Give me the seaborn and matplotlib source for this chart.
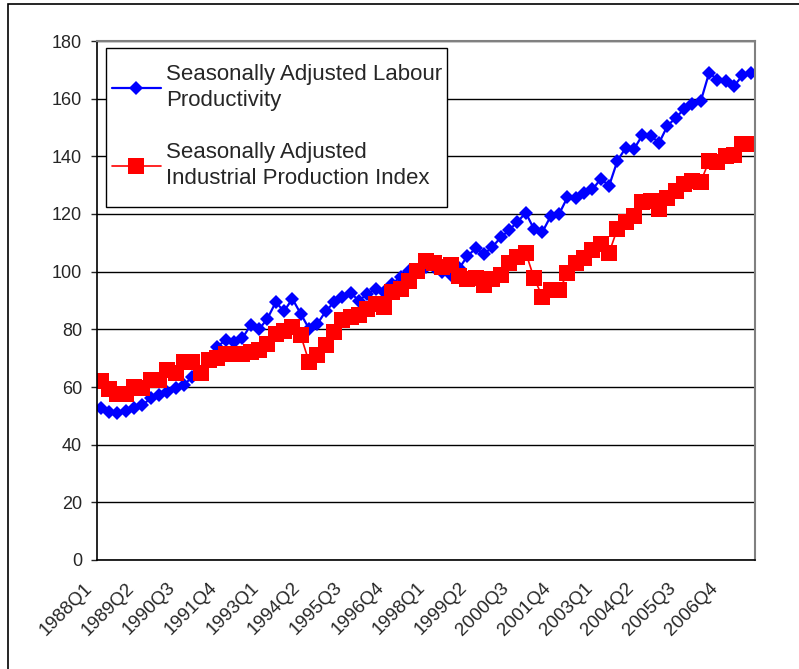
import numpy as np
import matplotlib
matplotlib.use('Agg')
import matplotlib.pyplot as plt
import matplotlib.patches as mpatches
import matplotlib.transforms as mtransforms
import pandas as pd
import seaborn as sns

sns.set_style("white")
plt.rcParams['font.family'] = ['Liberation Sans', 'DejaVu Sans']

# quarterly data, 1988Q1 .. 2007Q3
quarters = [f"{y}Q{q}" for y in range(1988, 2008) for q in range(1, 5)][:79]

labour_productivity = [
    52.6, 51.4, 51.1, 51.7, 52.6, 53.7, 56.1, 57.2, 58.4, 59.5,
    60.7, 63.6, 65.3, 69.0, 74.0, 76.3, 75.7, 76.9, 81.5, 80.0,
    83.7, 89.4, 86.3, 90.6, 85.4, 80.2, 81.9, 86.3, 89.4, 91.1,
    92.5, 90.0, 92.3, 94.0, 92.9, 95.8, 98.3, 100.3, 100.0, 101.5,
    101.5, 100.0, 98.8, 101.1, 105.4, 108.1, 106.1, 108.6, 111.9, 114.4,
    117.3, 120.4, 114.7, 113.8, 119.3, 120.0, 125.8, 125.4, 127.4, 128.5,
    132.2, 129.8, 138.5, 143.0, 142.6, 147.4, 147.1, 144.7, 150.6, 153.4,
    156.4, 158.2, 159.2, 169.0, 166.5, 166.1, 164.4, 168.1, 169.0,
]

industrial_production = [
    62.2, 59.2, 57.6, 57.6, 59.9, 59.5, 62.4, 62.4, 65.9, 64.7,
    68.8, 68.8, 64.7, 69.3, 69.9, 71.4, 71.4, 71.4, 72.2, 73.0,
    75.0, 78.5, 79.4, 80.8, 77.9, 68.7, 71.0, 74.4, 79.0, 83.1,
    84.2, 84.8, 87.1, 88.9, 87.9, 92.9, 94.0, 96.9, 100.4, 103.8,
    102.9, 101.7, 102.3, 98.5, 97.3, 97.7, 95.4, 97.3, 98.8, 102.9,
    105.2, 106.6, 97.7, 91.3, 93.6, 93.6, 99.4, 102.9, 104.6, 107.5,
    109.5, 106.6, 114.9, 117.3, 119.4, 124.3, 124.6, 121.8, 125.6, 128.0,
    130.5, 131.5, 131.2, 138.5, 138.1, 140.2, 140.5, 144.3, 144.3,
]

df = pd.DataFrame({
    "pos": np.arange(len(quarters)),
    "quarter": quarters,
    "labour": labour_productivity,
    "industrial": industrial_production,
})

W, H = 799, 669
fig = plt.figure(figsize=(W / 100, H / 100), dpi=100)
ax = fig.add_axes([96.5 / W, 1 - 560 / H, 658.5 / W, 519 / H])

sns.lineplot(data=df, x="pos", y="labour", ax=ax, color="#0000FF",
             marker="D", markersize=7.5, markeredgecolor="#0000FF",
             markeredgewidth=0, linewidth=1.6,
             label="Seasonally Adjusted Labour\nProductivity")
sns.lineplot(data=df, x="pos", y="industrial", ax=ax, color="#FF0000",
             marker="s", markersize=11, markeredgecolor="#FF0000",
             markeredgewidth=0, linewidth=1.2,
             label="Seasonally Adjusted\nIndustrial Production Index")

ax.set_xlim(-0.5, len(quarters) - 0.5)
ax.set_ylim(0, 180)
ax.set_yticks(range(0, 181, 20))
ax.yaxis.grid(True, color="black", linewidth=1)
ax.set_axisbelow(True)
ax.set_xlabel("")
ax.set_ylabel("")

tick_pos = list(range(0, len(quarters), 5))
ax.set_xticks(tick_pos)
ax.set_xticklabels([quarters[i] for i in tick_pos], rotation=45,
                   ha="right", va="top", rotation_mode="anchor")
ax.tick_params(axis="x", length=0, pad=14, labelsize=13.5)
ax.tick_params(axis="y", length=4, width=1, direction="out", pad=6.5,
               labelsize=13, left=True)
shift = mtransforms.ScaledTranslation(-17 / 100, 0, fig.dpi_scale_trans)
for lbl in ax.get_xticklabels():
    lbl.set_transform(lbl.get_transform() + shift)

for side in ["left", "bottom"]:
    ax.spines[side].set_color("black")
    ax.spines[side].set_linewidth(1.2)
for side in ["top", "right"]:
    ax.spines[side].set_color("#808080")
    ax.spines[side].set_linewidth(1.5)

# legend box drawn by hand, legend itself without frame
box = mpatches.Rectangle((105.7 / W, 1 - 206.7 / H), 341 / W, 158.4 / H,
                         transform=fig.transFigure, facecolor="white",
                         edgecolor="black", linewidth=1, zorder=4)
ax.add_patch(box)
leg = ax.legend(loc="upper left", bbox_to_anchor=((112 - 96.5) / 658.5, (560 - 64) / 519),
                borderaxespad=0, borderpad=0, frameon=False, fontsize=16,
                handlelength=2.2, handletextpad=0.25, labelspacing=1.38)
leg.set_zorder(5)
for t in leg.get_texts():
    t.set_linespacing(1.33)

# chart area border (left and top visible)
fig.patches.append(mpatches.Rectangle((7.7 / W, -0.1), 1.2, 1.1 - 4.3 / H,
                                      transform=fig.transFigure, fill=False,
                                      edgecolor="black", linewidth=1.2))

fig.savefig("out.png", dpi=100)
